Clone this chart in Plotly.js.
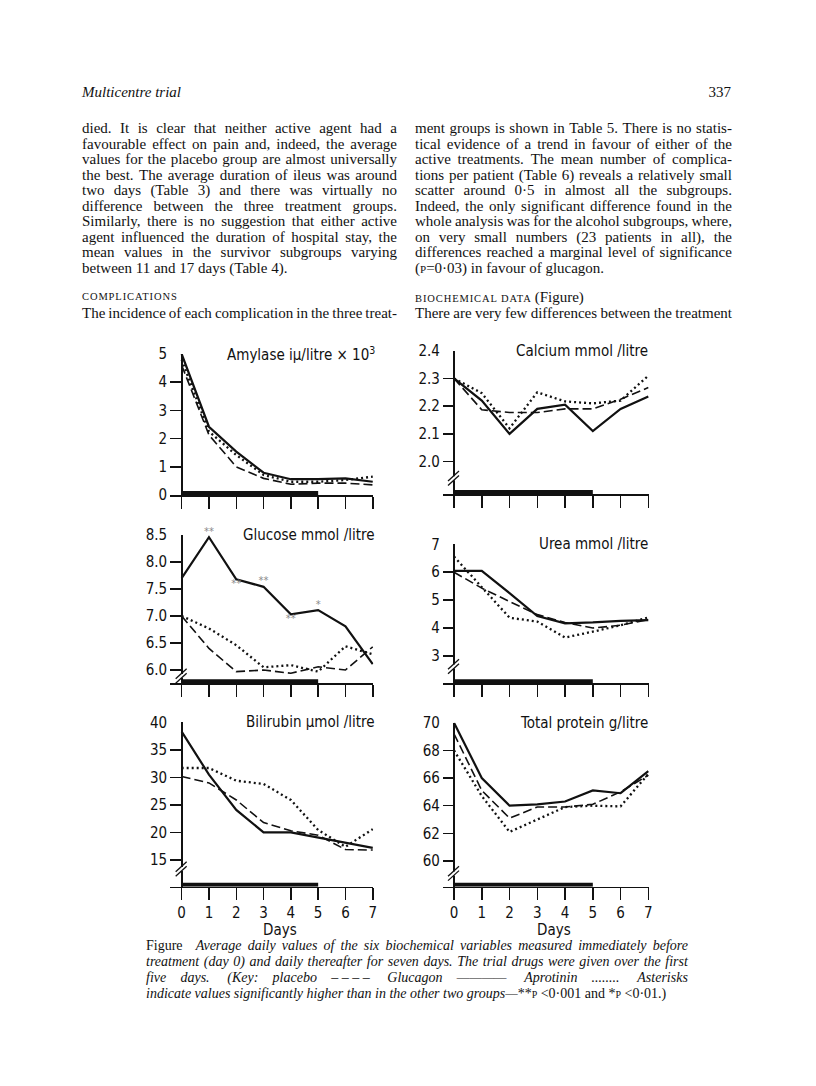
<!DOCTYPE html>
<html>
<head>
<meta charset="utf-8">
<script src="https://cdn.plot.ly/plotly-3.0.1.min.js"></script>
<style>
  html, body { margin:0; padding:0; background:#fff; }
  #page { position:relative; width:816px; height:1086px; overflow:hidden; background:#fff; }
  #chart { position:absolute; left:0; top:0; width:816px; height:1086px; }
  .ln { position:absolute; height:16px; line-height:16px; white-space:nowrap; font-family:"Liberation Serif","Times New Roman",serif; font-size:15px; color:#111; }
  .just { display:flex; justify-content:space-between; }
  .cap { font-size:14px; font-style:italic; }
  r { font-style:normal; }
  sc { font-variant:small-caps; font-style:normal; }
  .head { text-transform:uppercase; letter-spacing:0.9px; font-size:10.5px; }
</style>
</head>
<body>
<div id="page">
  <div id="chart"></div>
  <div id="text"></div>
</div>
<script>
// ---------------- data ----------------
const days = [0, 1, 2, 3, 4, 5, 6, 7];
const treatmentDays = [0, 5];

const amylaseGlucagon  = [5.0, 2.42, 1.54, 0.79, 0.56, 0.56, 0.59, 0.47];
const amylaseAprotinin = [4.79, 2.25, 1.42, 0.71, 0.47, 0.47, 0.53, 0.65];
const amylasePlacebo   = [4.6, 2.13, 1.0, 0.59, 0.38, 0.42, 0.42, 0.36];

const calciumGlucagon  = [2.30, 2.22, 2.10, 2.19, 2.205, 2.11, 2.19, 2.235];
const calciumAprotinin = [2.30, 2.247, 2.12, 2.25, 2.217, 2.21, 2.22, 2.31];
const calciumPlacebo   = [2.30, 2.187, 2.177, 2.177, 2.19, 2.19, 2.225, 2.267];

const glucoseGlucagon  = [7.70, 8.46, 7.68, 7.54, 7.03, 7.11, 6.81, 6.11];
const glucoseAprotinin = [7.00, 6.77, 6.46, 6.05, 6.09, 5.97, 6.44, 6.29];
const glucosePlacebo   = [7.00, 6.40, 5.97, 6.00, 5.94, 6.06, 6.00, 6.43];
const glucoseStars     = ['', '**', '**', '**', '**', '*', '', ''];

const ureaGlucagon  = [6.05, 6.05, 5.25, 4.43, 4.17, 4.20, 4.26, 4.28];
const ureaAprotinin = [6.56, 5.48, 4.37, 4.23, 3.66, 3.87, 4.10, 4.38];
const ureaPlacebo   = [6.00, 5.43, 4.95, 4.48, 4.20, 4.00, 4.10, 4.30];

const bilirubinGlucagon  = [38.3, 30.5, 24.1, 20.0, 20.0, 19.05, 18.15, 17.2];
const bilirubinAprotinin = [31.7, 31.7, 29.4, 28.8, 25.9, 20.45, 17.4, 20.6];
const bilirubinPlacebo   = [30.15, 29.0, 25.9, 21.8, 20.3, 19.5, 16.9, 16.8];

const proteinGlucagon  = [70.0, 66.0, 64.0, 64.1, 64.3, 65.1, 64.9, 66.5];
const proteinAprotinin = [68.0, 64.7, 62.1, 63.0, 63.9, 64.0, 63.95, 66.3];
const proteinPlacebo   = [69.2, 65.1, 63.1, 63.9, 63.9, 64.1, 65.0, 66.2];

const amylaseTicks   = [0, 1, 2, 3, 4, 5];
const calciumTicks   = [2.0, 2.1, 2.2, 2.3, 2.4];
const glucoseTicks   = [6.0, 6.5, 7.0, 7.5, 8.0, 8.5];
const ureaTicks      = [3, 4, 5, 6, 7];
const bilirubinTicks = [15, 20, 25, 30, 35, 40];
const proteinTicks   = [60, 62, 64, 66, 68, 70];

// ---------------- layout helpers ----------------
const W = 816, H = 1086;
const FONT = '"Liberation Sans Narrow","DejaVu Sans Condensed","Arial Narrow",sans-serif';
const INK = '#111';

const panels = [
  {title:'Amylase iμ/litre × 10<sup>3</sup>', col:0, top:354, bottom:495, range:[0,5], ticks:amylaseTicks, fmt:'d',
   g:amylaseGlucagon, a:amylaseAprotinin, p:amylasePlacebo, brk:null, labels:false},
  {title:'Calcium mmol /litre', col:1, top:350.7, bottom:494, range:[1.883,2.4], ticks:calciumTicks, fmt:'.1f',
   g:calciumGlucagon, a:calciumAprotinin, p:calciumPlacebo, brk:1.94, labels:false},
  {title:'Glucose mmol /litre', col:0, top:535, bottom:683.3, range:[5.754,8.5], ticks:glucoseTicks, fmt:'.1f',
   g:glucoseGlucagon, a:glucoseAprotinin, p:glucosePlacebo, brk:5.89, labels:false, stars:glucoseStars},
  {title:'Urea mmol /litre', col:1, top:544.3, bottom:683.3, range:[2.02,7], ticks:ureaTicks, fmt:'d',
   g:ureaGlucagon, a:ureaAprotinin, p:ureaPlacebo, brk:2.62, labels:false},
  {title:'Bilirubin μmol /litre', col:0, top:722.3, bottom:886.7, range:[10.15,40], ticks:bilirubinTicks, fmt:'d',
   g:bilirubinGlucagon, a:bilirubinAprotinin, p:bilirubinPlacebo, brk:13.36, labels:true},
  {title:'Total protein g/litre', col:1, top:722.7, bottom:886.7, range:[58.14,70], ticks:proteinTicks, fmt:'d',
   g:proteinGlucagon, a:proteinAprotinin, p:proteinPlacebo, brk:59.1, labels:true}
];
const cols = [
  {left:170.2, right:373.3, xr:[-0.42, 7.02], titleShift:4},
  {left:442.9, right:648.9, xr:[-0.40, 7.02], titleShift:1}
];
const starPositions = ['top center','top center','bottom center','top center','bottom center','top center','top center','top center'];

const traces = [];
const layout = {
  width:W, height:H, margin:{l:0,r:0,t:0,b:0},
  paper_bgcolor:'#fff', plot_bgcolor:'rgba(0,0,0,0)',
  showlegend:false, font:{family:FONT, size:14, color:INK},
  shapes:[], annotations:[]
};

panels.forEach((pn, i) => {
  const n = i + 1;
  const xa = 'x' + n, ya = 'y' + n;
  const c = cols[pn.col];
  layout['xaxis' + n] = {
    domain:[c.left / W, c.right / W], range:c.xr, anchor:ya,
    showline:true, linecolor:INK, linewidth:1.5, mirror:false,
    ticks:'outside', ticklen:12, tickwidth:1.5, tickcolor:INK,
    tickvals:days, showticklabels:pn.labels, tickfont:{family:FONT, size:15, color:INK},
    showgrid:false, zeroline:true, zerolinecolor:INK, zerolinewidth:1.8, fixedrange:true
  };
  layout['yaxis' + n] = {
    domain:[(H - pn.bottom) / H, (H - pn.top) / H], range:pn.range, anchor:xa,
    showline:false, ticks:'inside', ticklen:11, tickwidth:1.5, tickcolor:INK,
    tickvals:pn.ticks, tickformat:pn.fmt, tickfont:{family:FONT, size:15, color:INK},
    showgrid:false, zeroline:false, fixedrange:true, ticklabelstandoff:2
  };
  // placebo (dashed), aprotinin (dotted), glucagon (solid)
  traces.push({x:days, y:pn.p, xaxis:xa, yaxis:ya, type:'scatter', mode:'lines',
    line:{color:INK, width:1.6, dash:'9px,4px'}, hoverinfo:'skip'});
  traces.push({x:days, y:pn.a, xaxis:xa, yaxis:ya, type:'scatter', mode:'lines',
    line:{color:INK, width:2.3, dash:'2px,3px'}, hoverinfo:'skip'});
  traces.push({x:days, y:pn.g, xaxis:xa, yaxis:ya, type:'scatter', mode:'lines',
    line:{color:INK, width:2.2}, hoverinfo:'skip'});
  if (pn.stars) {
    const idx = pn.stars.map((s, k) => s ? k : -1).filter(k => k >= 0);
    traces.push({x:idx.map(k => days[k]), y:idx.map(k => pn.g[k]), xaxis:xa, yaxis:ya,
      type:'scatter', mode:'text', text:idx.map(k => pn.stars[k]),
      textposition:idx.map(k => starPositions[k]),
      textfont:{family:'DejaVu Sans', size:10, color:'#8a8a8a'}, hoverinfo:'skip', cliponaxis:false});
  }
  // treatment period bar (days 0-5)
  layout.shapes.push({type:'rect', xref:xa, yref:ya, x0:treatmentDays[0], x1:treatmentDays[1],
    ysizemode:'pixel', yanchor:pn.range[0], y0:0, y1:4, fillcolor:INK, line:{width:0}, layer:'above'});
  // axis break marks
  if (pn.brk !== null) {
    layout.shapes.push({type:'rect', xref:xa, yref:ya, xsizemode:'pixel', ysizemode:'pixel',
      xanchor:0, yanchor:pn.brk, x0:-2.5, x1:2.5, y0:-2, y1:2, fillcolor:'#fff', line:{width:0}, layer:'above'});
    [-2.2, 2.2].forEach(off => {
      layout.shapes.push({type:'line', xref:xa, yref:ya, xsizemode:'pixel', ysizemode:'pixel',
        xanchor:0, yanchor:pn.brk, x0:-6, x1:5, y0:off - 5, y1:off + 5, line:{color:INK, width:1.3}, layer:'above'});
    });
  }
  // panel title
  layout.annotations.push({text:pn.title, xref:xa + ' domain', yref:ya + ' domain', x:1, y:1,
    xanchor:'right', yanchor:'middle', xshift:c.titleShift, showarrow:false,
    font:{family:FONT, size:15, color:INK}});
  if (pn.labels) {
    layout.annotations.push({text:'Days', xref:xa, yref:ya + ' domain', x:3.6, y:0,
      xanchor:'center', yanchor:'middle', yshift:-(930 - pn.bottom), showarrow:false,
      font:{family:FONT, size:15, color:INK}});
  }
});

Plotly.newPlot('chart', traces, layout, {staticPlot:true, displayModeBar:false});

// ---------------- page text ----------------
const leftCol = [
  'died. It is clear that neither active agent had a',
  'favourable effect on pain and, indeed, the average',
  'values for the placebo group are almost universally',
  'the best. The average duration of ileus was around',
  'two days (Table 3) and there was virtually no',
  'difference between the three treatment groups.',
  'Similarly, there is no suggestion that either active',
  'agent influenced the duration of hospital stay, the',
  'mean values in the survivor subgroups varying',
  'between 11 and 17 days (Table 4).'
];
const rightCol = [
  'ment groups is shown in Table 5. There is no statis-',
  'tical evidence of a trend in favour of either of the',
  'active treatments. The mean number of complica-',
  'tions per patient (Table 6) reveals a relatively small',
  'scatter around 0·5 in almost all the subgroups.',
  'Indeed, the only significant difference found in the',
  'whole analysis was for the alcohol subgroups, where,',
  'on very small numbers (23 patients in all), the',
  'differences reached a marginal level of significance',
  '(<sc>p</sc>=0·03) in favour of glucagon.'
];
const captionLines = [
  '<r>Figure</r>&nbsp;&nbsp; Average daily values of the six biochemical variables measured immediately before',
  'treatment (day 0) and daily thereafter for seven days. The trial drugs were given over the first',
  'five days. &nbsp;(Key: placebo –&nbsp;–&nbsp;–&nbsp;– &nbsp;Glucagon ———— &nbsp;Aprotinin ........ &nbsp;Asterisks',
  'indicate values significantly higher than in the other two groups—<r>**</r><sc>p</sc><r>&nbsp;&lt;0·001</r> <r>and</r> <r>*</r><sc>p</sc><r>&nbsp;&lt;0·01.)</r>'
];
const lineTops = [128, 143.5, 159, 174.5, 190, 205.5, 221, 236.5, 252, 267.5];

const host = document.getElementById('text');
function addLine(html, x, yc, width, justify, cls) {
  const d = document.createElement('div');
  d.className = 'ln' + (justify ? ' just' : '') + (cls ? ' ' + cls : '');
  d.style.left = x + 'px';
  d.style.top = (yc - 8) + 'px';
  if (width) d.style.width = width + 'px';
  if (justify) {
    html.split(' ').filter(w => w.length).forEach(w => {
      const s = document.createElement('span'); s.innerHTML = w; d.appendChild(s);
    });
  } else {
    d.innerHTML = html;
  }
  host.appendChild(d);
  return d;
}
leftCol.forEach((t, i) => addLine(t, 82, lineTops[i], 315, i < leftCol.length - 1));
rightCol.forEach((t, i) => addLine(t, 415, lineTops[i], 317, i < rightCol.length - 1));

addLine('<i>Multicentre trial</i>', 82, 92, null, false);
const pg = addLine('337', 700, 92, 31, false); pg.style.textAlign = 'right';

addLine('Complications', 82, 297, null, false, 'head');
addLine('Biochemical data <span style="text-transform:none;letter-spacing:0;font-size:15px">(Figure)</span>', 415, 297, null, false, 'head');
addLine('The incidence of each complication in the three treat-', 82, 313, 315, true);
addLine('There are very few differences between the treatment', 415, 313, 317, true);

const capTops = [946, 962, 978, 994];
captionLines.forEach((t, i) => addLine(t, 146, capTops[i], 542, i < 3, 'cap'));
</script>
</body>
</html>
